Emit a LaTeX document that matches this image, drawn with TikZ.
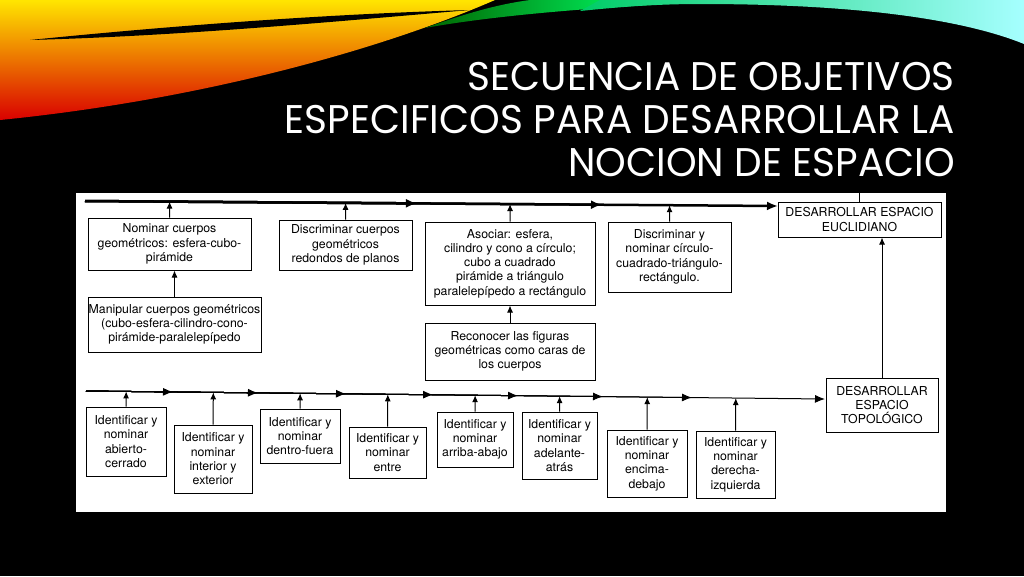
\documentclass[tikz,border=0pt]{standalone}
\usepackage{fontspec}
\usetikzlibrary{calc,arrows.meta}
\newfontfamily\boxfont{TeX Gyre Heros}
\newfontfamily\titlefont{Poppins}
\tikzset{
	objbox/.style 2 args={draw, line width=1pt, fill=white, align=center, inner sep=0pt, minimum width=#1pt, minimum height=#2pt, font=\boxfont\fontsize{12.3}{14.3}\selectfont},
	uparrow/.style={line width=1pt, -{Latex[length=7pt,width=6pt]}},
	tipline/.style={line width=1pt, -{Latex[length=10pt,width=8pt]}},
	titleline/.style={anchor=base east, text=white, inner sep=0pt, xscale=0.975, font=\titlefont\fontsize{40}{43}\selectfont}
}

\begin{document}
\begin{tikzpicture}[x=1pt, y=-1pt]
			%%%%% START %%%%%
			\useasboundingbox (0,0) rectangle (1024,576);
			\fill[black] (0,0) rectangle (1024,576);
			
			% swoosh
			\shade[top color=yellow!80!orange, middle color=orange, bottom color=red!85!black] (0,0) -- (495,0) .. controls (380,50) and (200,100) .. (0,120) -- cycle;
			\fill[black] (30,40) .. controls (180,25) and (330,14) .. (470,10) .. controls (330,22) and (180,36) .. (30,40) -- cycle;
			\shade[left color=green!40!black, right color=green!60!cyan] (425,28) .. controls (470,12) and (500,4) .. (530,0) -- (650,0) -- (650,5) .. controls (560,10) and (480,18) .. (425,28) -- cycle;
			\shade[left color=green!50!cyan!80!black, right color=cyan!35!white] (600,0) -- (1024,0) -- (1024,44) .. controls (960,18) and (850,4) .. (700,4) .. controls (650,4) and (610,8) .. (580,11) -- cycle;
			
			% title
			\node[titleline] (t1) at (955,90) {SECUENCIA DE OBJETIVOS};
			\node[titleline] (t2) at (955,133) {ESPECIFICOS PARA DESARROLLAR LA};
			\node[titleline] (t3) at (955,176) {NOCION DE ESPACIO};
			
			% panel
			\fill[white] (76,193) rectangle (946,512);
			
			\coordinate (tA) at (85,201);
			\coordinate (tB) at (778,206);
			\coordinate (mA) at (86,391);
			\coordinate (mB) at (825,399);
			
			\node[objbox={163}{52}] (nomcuer) at (169.5,244) {Nominar cuerpos\\geométricos: esfera-cubo-\\pirámide};
			\node[objbox={173}{55}] (manip) at (174.5,324.5) {Manipular cuerpos geométricos\\(cubo-esfera-cilindro-cono-\\pirámide-paralelepípedo};
			\node[objbox={133}{50}] (discuer) at (345.5,245) {Discriminar cuerpos\\geométricos\\redondos de planos};
			\node[objbox={170}{83}] (asociar) at (510,263.5) {Asociar: esfera,\\cilindro y cono a círculo;\\cubo a cuadrado\\pirámide a triángulo\\paralelepípedo a rectángulo};
			\node[objbox={170}{57}] (reconocer) at (510,351.5) {Reconocer las figuras\\geométricas como caras de\\los cuerpos};
			\node[objbox={123}{70}] (disnom) at (669.5,257) {Discriminar y\\nominar círculo-\\cuadrado-triángulo-\\rectángulo.};
			\node[objbox={163}{35}] (euclid) at (859.5,219.5) {DESARROLLAR ESPACIO\\EUCLIDIANO};
			\node[objbox={112}{54}] (topol) at (882,405) {DESARROLLAR\\ESPACIO\\TOPOLÓGICO};
			
			\node[objbox={80}{69}] (abcer) at (126,441.5) {Identificar y\\nominar\\abierto-\\cerrado};
			\node[objbox={78}{68}] (intext) at (213,459) {Identificar y\\nominar\\interior y\\exterior};
			\node[objbox={80}{54}] (denfue) at (300,436) {Identificar y\\nominar\\dentro-fuera};
			\node[objbox={77}{51}] (entre) at (387.5,452.5) {Identificar y\\nominar\\entre};
			\node[objbox={76}{55}] (arrab) at (475,439.5) {Identificar y\\nominar\\arriba-abajo};
			\node[objbox={75}{67}] (adeatr) at (559.5,445.5) {Identificar y\\nominar\\adelante-\\atrás};
			\node[objbox={80}{67}] (encdeb) at (647,463.5) {Identificar y\\nominar\\encima-\\debajo};
			\node[objbox={79}{67}] (derizq) at (735.5,464.5) {Identificar y\\nominar\\derecha-\\izquierda};
			
			% top line
			\draw[line width=2.5pt, -{Latex[length=11pt,width=9pt]}] (tA) -- (tB);
			\foreach \f in {0.479,0.746}
				\draw[line width=2.5pt, -{Latex[length=11pt,width=9pt]}] (tA) -- ($(tA)!\f!(tB)$);
			\draw[line width=1pt] (euclid.north) -- (euclid.north |- 0,193);
			
			% middle line
			\draw[tipline] (mA) -- (mB);
			\foreach \f in {0.1177,0.2327,0.3518,0.4696,0.5846,0.6996,0.8200}
				\draw[tipline] (mA) -- ($(mA)!\f!(mB)$);
			
			\draw[uparrow] (nomcuer.north) -- ($(tA)!(nomcuer.north)!(tB)$);
			\draw[uparrow] (discuer.north) -- ($(tA)!(discuer.north)!(tB)$);
			\draw[uparrow] (asociar.north) -- ($(tA)!(asociar.north)!(tB)$);
			\draw[uparrow] (disnom.north) -- ($(tA)!(disnom.north)!(tB)$);
			\draw[uparrow] (manip.north) -- (manip.north |- nomcuer.south);
			\draw[uparrow] (reconocer.north) -- (asociar.south);
			\draw[uparrow] (topol.north) -- (topol.north |- euclid.south);
			
			\draw[uparrow] (abcer.north) -- ($(mA)!(abcer.north)!(mB)$);
			\draw[uparrow] (intext.north) -- ($(mA)!(intext.north)!(mB)$);
			\draw[uparrow] (denfue.north) -- ($(mA)!(denfue.north)!(mB)$);
			\draw[uparrow] (entre.north) -- ($(mA)!(entre.north)!(mB)$);
			\draw[uparrow] (arrab.north) -- ($(mA)!(arrab.north)!(mB)$);
			\draw[uparrow] (adeatr.north) -- ($(mA)!(adeatr.north)!(mB)$);
			\draw[uparrow] (encdeb.north) -- ($(mA)!(encdeb.north)!(mB)$);
			\draw[uparrow] (derizq.north) -- ($(mA)!(derizq.north)!(mB)$);
			
			%%%%% END %%%%%
\end{tikzpicture}
\end{document}
